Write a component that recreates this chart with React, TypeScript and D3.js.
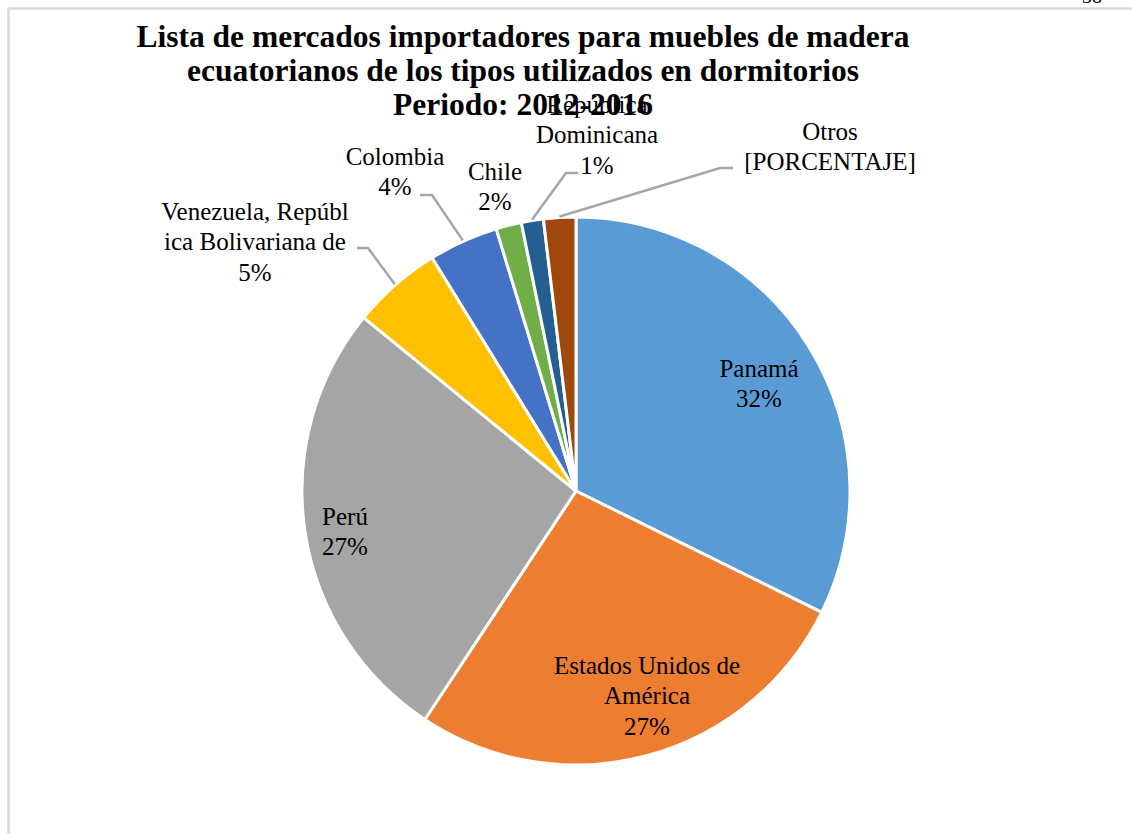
import React from "react";
import * as d3 from "d3";

const categories = [
  "Panamá",
  "Estados Unidos de América",
  "Perú",
  "Venezuela, República Bolivariana de",
  "Colombia",
  "Chile",
  "República Dominicana",
  "Otros",
];
const values = [32.3, 27.0, 26.6, 5.3, 4.1, 1.5, 1.3, 1.9];
const colors = ["#5B9BD5", "#ED7D31", "#A5A5A5", "#FFC000", "#4472C4", "#70AD47", "#255E91", "#9E480E"];
const labelLines = [
  ["Panamá"],
  ["Estados Unidos de", "América"],
  ["Perú"],
  ["Venezuela, Repúbl", "ica Bolivariana de"],
  ["Colombia"],
  ["Chile"],
  ["República", "Dominicana"],
  ["Otros"],
];
const titleLines = [
  "Lista de mercados importadores para muebles de madera",
  "ecuatorianos de los tipos utilizados en dormitorios",
  "Periodo: 2012-2016",
];

// layout (positions of label blocks: x center, y of first line center)
const labelLayout = [
  { x: 759, y: 368 },
  { x: 647, y: 665 },
  { x: 345, y: 516 },
  { x: 255, y: 211 },
  { x: 395, y: 156 },
  { x: 495, y: 171 },
  { x: 597, y: 104 },
  { x: 830, y: 131 },
];
// leader lines: elbow and end points (null = no leader)
const leaders: ({ ex: number; ey: number; tx: number } | null)[] = [
  null,
  null,
  null,
  { ex: 368, ey: 248, tx: 357 },
  { ex: 432, ey: 195, tx: 420 },
  null,
  { ex: 566, ey: 173, tx: 578 },
  { ex: 720, ey: 168, tx: 733 },
];

const W = 1132;
const H = 834;
const cx = 576;
const cy = 491;
const R = 274;
const LH = 30.5;
const FONT = "Liberation Serif, Times New Roman, DejaVu Serif, serif";

export default function App() {
  const total = d3.sum(values);
  const pie = d3.pie<number>().sort(null).value((d) => d);
  const arcs = pie(values);
  const arcGen = d3.arc<d3.PieArcDatum<number>>().innerRadius(0).outerRadius(R);
  const edgeArc = d3.arc<d3.PieArcDatum<number>>().innerRadius(R + 1).outerRadius(R + 1);

  return (
    <div style={{ position: "fixed", left: 0, top: 0, width: W, height: H, background: "#fff" }}>
      <svg width={W} height={H} style={{ display: "block" }}>
        <rect x={0} y={0} width={W} height={H} fill="#fff" />
        <text x={1092} y={3} fontSize={20} fontFamily={FONT} textAnchor="middle" fill="#000">38</text>
        <rect x={8.5} y={8.5} width={W + 20} height={H + 20} fill="none" stroke="#d9d9d9" strokeWidth={2.5} />
        <g transform={`translate(${cx},${cy})`}>
          {arcs.map((a, i) => (
            <path key={i} d={arcGen(a) || ""} fill={colors[i]} stroke="#fff" strokeWidth={3} strokeLinejoin="round" />
          ))}
        </g>
        {titleLines.map((t, i) => (
          <text key={i} x={523} y={47 + i * 34} textAnchor="middle" fontSize={31.5} fontWeight="bold" fontFamily={FONT} fill="#000">
            {t}
          </text>
        ))}
        {arcs.map((a, i) => {
          const L = leaders[i];
          if (!L) return null;
          const [sx, sy] = edgeArc.centroid(a);
          return (
            <polyline
              key={i}
              points={`${cx + sx},${cy + sy} ${L.ex},${L.ey} ${L.tx},${L.ey}`}
              fill="none"
              stroke="#a6a6a6"
              strokeWidth={2.5}
            />
          );
        })}
        {arcs.map((a, i) => {
          const pct = i === categories.length - 1 ? "[PORCENTAJE]" : `${Math.round((values[i] / total) * 100)}%`;
          const lines = [...labelLines[i], pct];
          const pos = labelLayout[i];
          return (
            <text key={i} textAnchor="middle" fontSize={25} fontFamily={FONT} fill="#000">
              {lines.map((ln, j) => (
                <tspan key={j} x={pos.x} y={pos.y + j * LH} dy="0.35em">
                  {ln}
                </tspan>
              ))}
            </text>
          );
        })}
      </svg>
    </div>
  );
}
